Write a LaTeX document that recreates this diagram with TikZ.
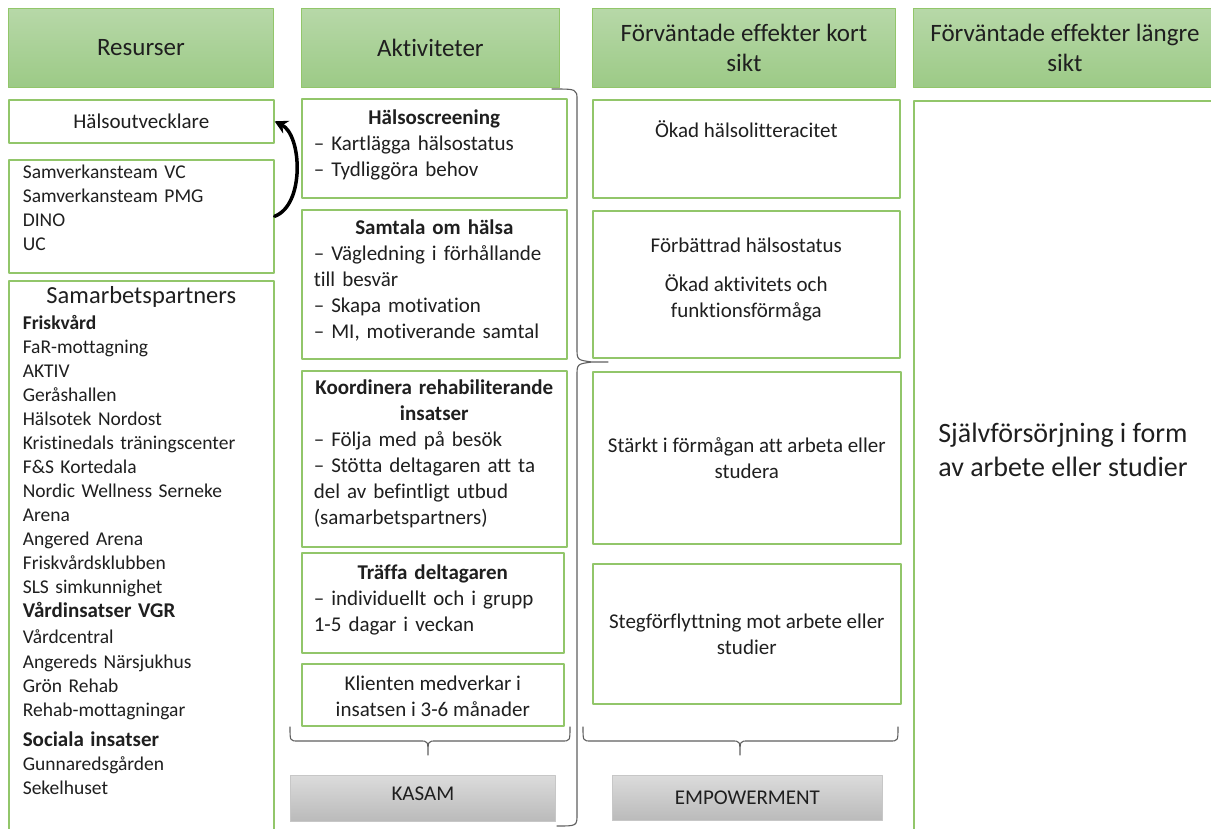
\documentclass[tikz,border=0pt]{standalone}
\usepackage{fontspec}
\setmainfont{Carlito}[Ligatures=CommonOff]
\usetikzlibrary{arrows.meta,positioning}
\definecolor{ramgron}{RGB}{146,198,106}
\definecolor{ljusgron}{RGB}{183,216,168}
\definecolor{morkgron}{RGB}{156,202,134}
\definecolor{klammer}{RGB}{95,95,95}
\newcommand{\rubrik}[1]{\makebox[\hsize]{\textbf{#1}}}
\tikzset{
  brodtext/.style={font=\fontsize{21}{26}\selectfont},
  listtext/.style={font=\fontsize{19.5}{24}\selectfont},
  rubrikruta/.style={draw=ramgron, line width=0.8pt, top color=ljusgron, bottom color=morkgron, anchor=north west, align=center, inner sep=0pt, font=\fontsize{25}{30}\selectfont},
  ruta/.style={draw=ramgron, line width=1.6pt, fill=white, anchor=north west, inner sep=0pt, align=center, brodtext},
  innehall/.style={inner sep=0pt, align=left, brodtext},
  graruta/.style={draw=black!22, line width=0.8pt, top color=black!14, bottom color=black!27, anchor=north west, brodtext},
  klamra/.style={draw=klammer, line width=1.1pt},
  pil/.style={line width=3.5pt, -{Stealth[length=13pt,width=14pt]}}
}
\begin{document}
\begin{tikzpicture}[x=1pt, y=-1pt, line join=round, line cap=round, text=black!88]
\useasboundingbox (0,0) rectangle (1211,829);
\clip (0,0) rectangle (1211,829);
% rubriker
\foreach \namn/\xpos/\bredd/\txt in {resurser/8/265/Resurser, aktiviteter/301/258/Aktiviteter, kort/592/303/Förväntade effekter kort\\sikt, lang/913/303/Förväntade effekter längre\\sikt}
  \node[rubrikruta, minimum width=\bredd, minimum height=79] (\namn) at (\xpos,8) {\txt};
% resurser
\node[ruta, minimum width=265, minimum height=43] (halso) at (8,99) {Hälsoutvecklare};
\node[ruta, minimum width=265, minimum height=113] (samverk) at (8,159) {};
\node[innehall, listtext, text width=237, below=6pt of samverk.north] (samverktext) {Samverkansteam VC\\Samverkansteam PMG\\DINO\\UC};
\node[ruta, minimum width=265, minimum height=570] (partner) at (8,280) {};
\node[innehall, listtext, text width=237, below=6pt of partner.north] (partnerlista) {\makebox[\hsize]{\fontsize{24.5}{24}\selectfont Samarbetspartners}\\[2.5pt]
  \textbf{Friskvård}\\FaR-mottagning\\AKTIV\\Geråshallen\\Hälsotek Nordost\\Kristinedals träningscenter\\F\&S Kortedala\\Nordic Wellness Serneke\\Arena\\Angered Arena\\Friskvårdsklubben\\SLS simkunnighet\\
  {\fontsize{21}{24}\selectfont\textbf{Vårdinsatser VGR}}\\[2pt]Vårdcentral\\[1pt]Angereds Närsjukhus\\Grön Rehab\\Rehab-mottagningar\\[6pt]
  {\fontsize{21}{24}\selectfont\textbf{Sociala insatser}}\\Gunnaredsgården\\Sekelhuset};
\draw[pil] (samverk.east) .. controls (305,205) and (302,135) .. (halso.east);
% aktiviteter
\node[ruta, minimum width=265, minimum height=99] (screening) at (301,98) {};
\node[innehall, text width=241, below=12pt of screening.north] (screeningtext) {\rubrik{Hälsoscreening}\\– Kartlägga hälsostatus\\– Tydliggöra behov};
\node[ruta, minimum width=265, minimum height=149] (samtal) at (301,209) {};
\node[innehall, text width=241, below=11pt of samtal.north] (samtaltext) {\rubrik{Samtala om hälsa}\\– Vägledning i förhållande\\till besvär\\– Skapa motivation\\– MI, motiverande samtal};
\node[ruta, minimum width=265, minimum height=176] (koordinera) at (301,370) {};
\node[innehall, text width=241, below=10pt of koordinera.north] (koordineratext) {\rubrik{Koordinera rehabiliterande}\\\rubrik{insatser}\\– Följa med på besök\\– Stötta deltagaren att ta\\del av befintligt utbud\\(samarbetspartners)};
\node[ruta, minimum width=262, minimum height=100] (traffa) at (301,552) {};
\node[innehall, text width=238, below=13pt of traffa.north] (traffatext) {\rubrik{Träffa deltagaren}\\– individuellt och i grupp\\1-5 dagar i veckan};
\node[ruta, minimum width=262, minimum height=62] (klient) at (301,663) {};
\node[innehall, align=center, below=12.5pt of klient.north] (klienttext) {Klienten medverkar i\\insatsen i 3-6 månader};
% effekter kort sikt
\node[ruta, minimum width=307, minimum height=98] (okad) at (592,99) {};
\node[innehall, below=21pt of okad.north] (okadtext) {Ökad hälsolitteracitet};
\node[ruta, minimum width=307, minimum height=147, text depth=13pt] (forbattrad) at (592,210) {Förbättrad hälsostatus\\[13pt]Ökad aktivitets och\\funktionsförmåga};
\node[ruta, minimum width=308, minimum height=172] (starkt) at (592,371) {Stärkt i förmågan att arbeta eller\\studera};
\node[ruta, minimum width=308, minimum height=140] (steg) at (592,563) {Stegförflyttning mot arbete eller\\studier};
% effekter längre sikt
\node[ruta, minimum width=310, minimum height=760] (langsikt) at (913,100) {};
\node[align=center, font=\fontsize{28}{34}\selectfont] (maltext) at (1063,450) {Självförsörjning i form\\av arbete eller studier};
% klamrar
\draw[klamra] (552,89) .. controls (577,89) .. (577,100) -- (577,348) .. controls (577,360) .. (592,362) -- (608,362)
  (592,362) .. controls (577,364) .. (577,376) -- (577,814) .. controls (577,826) .. (557,826);
\foreach \a/\m/\b in {290/428/570, 583/740/898}
  \draw[klamra] (\a,727) .. controls (\a,741) .. (\a+8,741) -- (\m-8,741) .. controls (\m,741) .. (\m,755)
    .. controls (\m,741) .. (\m+8,741) -- (\b-8,741) .. controls (\b,741) .. (\b,727);
\node[graruta, minimum width=265, minimum height=46, text depth=10pt] (kasam) at (290,775) {KASAM};
\node[graruta, minimum width=270, minimum height=45] (empowerment) at (612,775) {EMPOWERMENT};
\end{tikzpicture}
\end{document}
